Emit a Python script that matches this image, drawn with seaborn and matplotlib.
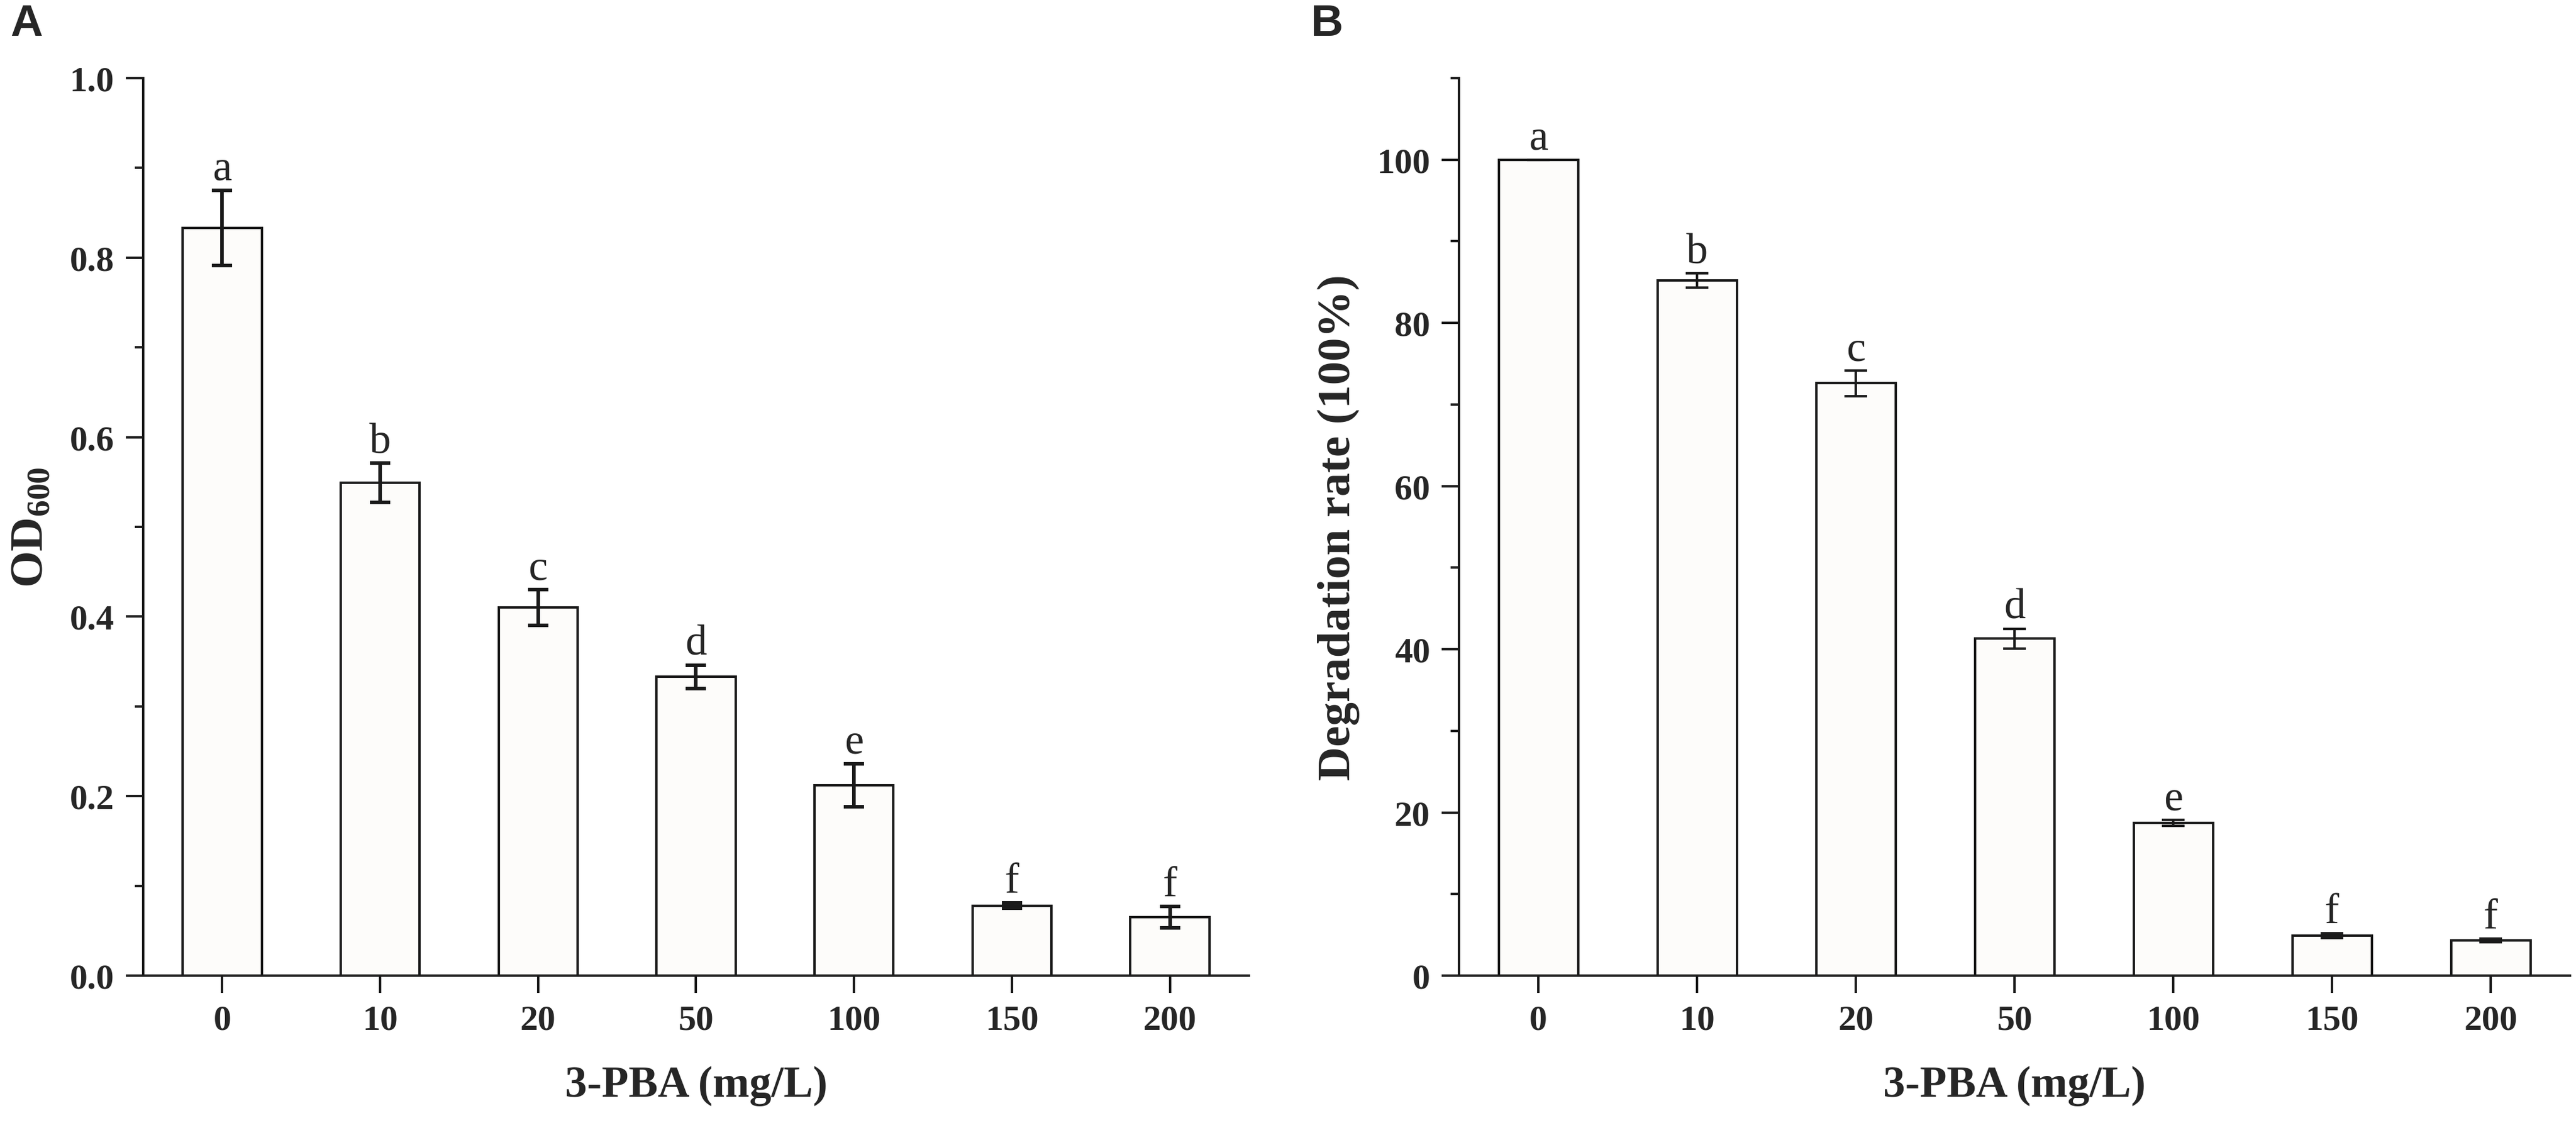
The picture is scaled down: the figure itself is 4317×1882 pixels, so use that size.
import numpy as np
import pandas as pd
import seaborn as sns
import matplotlib.pyplot as plt
from matplotlib.ticker import MultipleLocator

# 3-PBA concentrations (mg/L)
conc = ['0', '10', '20', '50', '100', '150', '200']

# panel A: growth (OD600)
od600 = [0.833, 0.549, 0.410, 0.333, 0.212, 0.078, 0.065]
od600_sd = [0.042, 0.022, 0.020, 0.013, 0.024, 0.003, 0.012]
od600_grp = ['a', 'b', 'c', 'd', 'e', 'f', 'f']

# panel B: degradation rate
degr = [100.0, 85.2, 72.6, 41.3, 18.7, 4.9, 4.3]
degr_sd = [0.0, 0.85, 1.55, 1.2, 0.35, 0.3, 0.2]
degr_grp = ['a', 'b', 'c', 'd', 'e', 'f', 'f']

sns.set_style('ticks')
plt.rcParams['font.family'] = ['Liberation Serif', 'DejaVu Serif']
plt.rcParams['mathtext.fontset'] = 'custom'
plt.rcParams['mathtext.rm'] = 'Liberation Serif'
plt.rcParams['mathtext.bf'] = 'Liberation Serif:bold'

INK = '#1a1a1a'


def bar_panel(ax, vals, sd, grp, ymax, major, minor, ylabel, gap, elw, cap):
    """bars + sd error bars + significance letters"""
    df = pd.DataFrame({'conc': conc, 'val': vals})
    sns.barplot(data=df, x='conc', y='val', order=conc, color='#fdfcfa',
                saturation=1, edgecolor=INK, linewidth=2.9, width=0.5,
                errorbar=None, ax=ax)
    xs = np.arange(len(conc))
    ax.errorbar(xs, vals, yerr=sd, fmt='none', ecolor=INK, elinewidth=elw,
                capsize=cap, capthick=elw, zorder=5)
    for x, v, s, g in zip(xs, vals, sd, grp):
        ax.text(x, v + s + gap, g, ha='center', va='baseline', fontsize=52)

    ax.set_xlim(-0.5, len(conc) - 0.5)
    ax.set_ylim(0, ymax)
    ax.yaxis.set_major_locator(MultipleLocator(major))
    ax.yaxis.set_minor_locator(MultipleLocator(minor))
    sns.despine(ax=ax)
    for sp in ['left', 'bottom']:
        ax.spines[sp].set_linewidth(2.9)
        ax.spines[sp].set_color(INK)
    ax.tick_params(axis='both', which='major', direction='out', length=21,
                   width=2.9, color=INK, labelsize=43, pad=14)
    ax.tick_params(axis='y', which='minor', direction='out', length=10,
                   width=2.9, color=INK)
    for lbl in ax.get_xticklabels() + ax.get_yticklabels():
        lbl.set_fontweight('bold')
    ax.set_xlabel('3-PBA (mg/L)', fontsize=53, fontweight='bold', labelpad=34)
    ax.set_ylabel(ylabel, fontsize=57, fontweight='bold', labelpad=20)


fig = plt.figure(figsize=(43.17, 18.83), dpi=100)
ax_a = fig.add_axes([0.0556, 0.1312, 0.4292, 0.7987])
ax_b = fig.add_axes([0.5664, 0.1312, 0.4313, 0.7987])

bar_panel(ax_a, od600, od600_sd, od600_grp, 1.0, 0.2, 0.1,
          r'OD$_{\mathbf{600}}$', 0.012, 4.3, 12)
bar_panel(ax_b, degr, degr_sd, degr_grp, 110, 20, 10,
          'Degradation rate (100%)', 1.32, 3.0, 13.5)

fig.text(0.004, 0.997, 'A', family='Liberation Sans', fontweight='bold',
         fontsize=54, ha='left', va='top')
fig.text(0.509, 0.997, 'B', family='Liberation Sans', fontweight='bold',
         fontsize=54, ha='left', va='top')

fig.savefig('out.png', dpi=100, facecolor='white')
